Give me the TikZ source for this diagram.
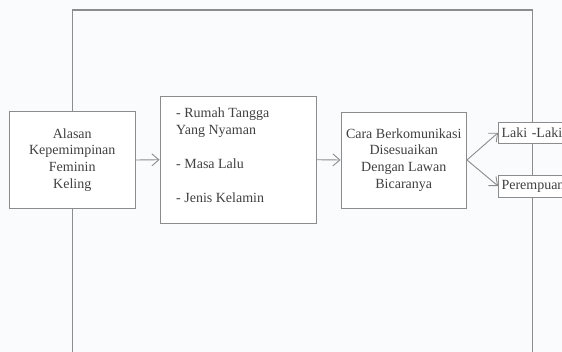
\documentclass[tikz,border=0pt]{standalone}
\usepackage{fontspec}
\setmainfont{Liberation Serif}
\usetikzlibrary{arrows.meta}
\definecolor{bg}{RGB}{250,251,252}
\definecolor{ln}{RGB}{140,140,140}
\definecolor{tx}{RGB}{64,64,64}
\tikzset{
  box/.style={draw=ln, fill=white, line width=0.9pt, inner sep=0pt, text=tx,
    font={\fontsize{14}{16.8}\selectfont}, align=center},
  conn/.style={draw=ln, line width=0.9pt, -{Straight Barb[length=7pt,width=12pt,line width=0.9pt]}},
  frame/.style={draw=ln, line width=1.1pt}
}
\begin{document}
\begin{tikzpicture}[x=1pt,y=-1pt]
\fill[bg] (0,0) rectangle (562,352);
\useasboundingbox (0,0) rectangle (562,352);
\clip (0,0) rectangle (562,352);
% frame
\coordinate (fl) at (72.25,360);
\coordinate (ftl) at (72.25,10);
\coordinate (ftr) at (532.5,10);
\coordinate (fr) at (532.5,360);
\draw[frame] (fl) -- (ftl) -- (ftr) -- (fr);
% boxes
\node[box, minimum width=125.5pt, minimum height=97pt] (b1) at (72.25,160)
  {Alasan\\Kepemimpinan\\Feminin\\Keling};
\node[box, minimum width=156pt, minimum height=127.5pt] (b2) at (238,159.75) {};
\node[anchor=north west, inner sep=0pt, align=left, text=tx,
  font={\fontsize{14}{17}\selectfont}] (b2t) at (176,107.5)
  {- Rumah Tangga\\Yang Nyaman\\[17pt]- Masa Lalu\\[17pt]- Jenis Kelamin};
\node[box, minimum width=125.5pt, minimum height=96pt] (b3) at (403.75,160)
  {Cara Berkomunikasi\\Disesuaikan\\Dengan Lawan\\Bicaranya};
\node[box, text width=63.5pt, inner xsep=3pt, align=left, minimum height=20.5pt] (b4)
  at (533.25,132.75) {Laki -Laki};
\node[box, text width=63.5pt, inner xsep=3pt, align=left, minimum height=22pt] (b5)
  at (533.25,186) {Perempuan};
% connectors
\draw[conn] (b1.east) -- (b2.west);
\draw[conn] (b2.east) -- (b3.west);
\draw[conn] (b3.east) -- (b4.west);
\draw[conn] (b3.east) -- (b5.west);
\end{tikzpicture}
\end{document}
